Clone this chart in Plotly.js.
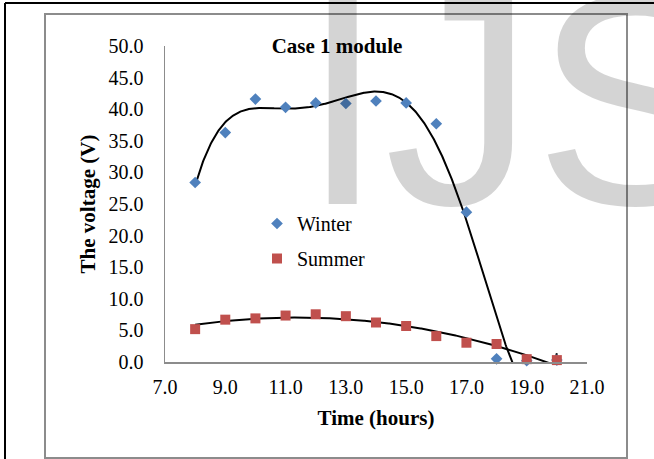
<!DOCTYPE html>
<html>
<head>
<meta charset="utf-8">
<script src="https://cdn.plot.ly/plotly-3.0.1.min.js"></script>
<style>
  html, body { margin: 0; padding: 0; background: #ffffff; }
  #chart { width: 654px; height: 459px; }
</style>
</head>
<body>
<div id="chart"></div>
<script>
// ---- Data ----
const hours  = [8, 9, 10, 11, 12, 13, 14, 15, 16, 17, 18, 19, 20];
const winter = [28.4, 36.3, 41.6, 40.3, 41.0, 40.9, 41.3, 41.0, 37.7, 23.7, 0.5, 0.2, 0.3];
const summer = [5.2, 6.7, 6.9, 7.35, 7.55, 7.25, 6.25, 5.7, 4.1, 3.05, 2.85, 0.45, 0.3];
const yTicks = [0, 5, 10, 15, 20, 25, 30, 35, 40, 45, 50];
const xTicks = [7, 9, 11, 13, 15, 17, 19, 21];
const seriesNames = ['Winter', 'Summer'];
const chartTitle = 'Case 1 module';
const xTitle = 'Time (hours)';
const yTitle = 'The voltage (V)';

// ---- Least-squares polynomial trendline (like Excel's) ----
function polyfit(xs, ys, deg) {
  const n = xs.length;
  const c = xs.reduce((a, b) => a + b, 0) / n;
  const s = (Math.max(...xs) - Math.min(...xs)) / 2;
  const m = deg + 1;
  const A = Array.from({length: m}, () => new Array(m).fill(0));
  const b = new Array(m).fill(0);
  for (let k = 0; k < n; k++) {
    const t = (xs[k] - c) / s;
    const p = [];
    for (let i = 0; i < m; i++) p.push(Math.pow(t, i));
    for (let i = 0; i < m; i++) {
      b[i] += p[i] * ys[k];
      for (let j = 0; j < m; j++) A[i][j] += p[i] * p[j];
    }
  }
  for (let i = 0; i < m; i++) {
    let piv = i;
    for (let r = i + 1; r < m; r++) if (Math.abs(A[r][i]) > Math.abs(A[piv][i])) piv = r;
    [A[i], A[piv]] = [A[piv], A[i]]; [b[i], b[piv]] = [b[piv], b[i]];
    for (let r = i + 1; r < m; r++) {
      const f = A[r][i] / A[i][i];
      for (let j = i; j < m; j++) A[r][j] -= f * A[i][j];
      b[r] -= f * b[i];
    }
  }
  const coef = new Array(m).fill(0);
  for (let i = m - 1; i >= 0; i--) {
    let sum = b[i];
    for (let j = i + 1; j < m; j++) sum -= A[i][j] * coef[j];
    coef[i] = sum / A[i][i];
  }
  return x => { const t = (x - c) / s; let v = 0; for (let i = m - 1; i >= 0; i--) v = v * t + coef[i]; return v; };
}
function trend(xs, ys, deg) {
  const f = polyfit(xs, ys, deg);
  const x0 = Math.min(...xs), x1 = Math.max(...xs);
  const tx = [], ty = [];
  for (let i = 0; i <= 600; i++) { const x = x0 + (x1 - x0) * i / 600; tx.push(x); ty.push(f(x)); }
  return {tx, ty};
}
const wT = trend(hours, winter, 6);
const sT = trend(hours, summer, 2);

// ---- Layout helpers (pixel -> paper) ----
const W = 654, H = 459;
const M = {l: 165, r: 67, t: 46, b: 97};
const PW = W - M.l - M.r, PH = H - M.t - M.b;
const px = x => (x - M.l) / PW;
const py = y => (H - M.b - y) / PH;

const serif = '"Liberation Serif", "Times New Roman", serif';

const traces = [
  {x: wT.tx, y: wT.ty, mode: 'lines', line: {color: '#000000', width: 2}, showlegend: false, hoverinfo: 'skip'},
  {x: sT.tx, y: sT.ty, mode: 'lines', line: {color: '#000000', width: 2}, showlegend: false, hoverinfo: 'skip'},
  {x: hours, y: winter, name: seriesNames[0], mode: 'markers', legendgroup: 'w', cliponaxis: false,
   marker: {symbol: 'diamond', size: 9, color: '#4F81BD'}},
  {x: hours, y: summer, name: seriesNames[1], mode: 'markers', legendgroup: 's', cliponaxis: false,
   marker: {symbol: 'square', size: 10, color: '#C0504D'}}
];

const layout = {
  width: W, height: H,
  margin: M,
  paper_bgcolor: '#ffffff', plot_bgcolor: 'rgba(0,0,0,0)',
  font: {family: serif, size: 20, color: '#000000'},
  title: {text: '<b>' + chartTitle + '</b>', xref: 'paper', x: px(337), xanchor: 'center',
          yref: 'paper', y: py(46), yanchor: 'middle', font: {family: serif, size: 21, color: '#000'}},
  xaxis: {range: [7, 21], tickvals: xTicks, ticktext: xTicks.map(v => v.toFixed(1)),
          showgrid: false, zeroline: false, showline: true, linecolor: '#8c8c8c', linewidth: 1.5,
          ticks: '', ticklabelstandoff: 6, tickfont: {family: serif, size: 20},
          title: {text: '<b>' + xTitle + '</b>', standoff: 14, font: {family: serif, size: 21}}},
  yaxis: {range: [0, 50], tickvals: yTicks, ticktext: yTicks.map(v => v.toFixed(1)),
          showgrid: false, zeroline: false, showline: true, linecolor: '#8c8c8c', linewidth: 1.5,
          ticks: '', ticklabelstandoff: 16, tickfont: {family: serif, size: 20},
          title: {text: '<b>' + yTitle + '</b>', standoff: 7, font: {family: serif, size: 21}}},
  showlegend: true,
  legend: {x: px(257), y: py(204), xanchor: 'left', yanchor: 'top', bgcolor: 'rgba(0,0,0,0)',
           traceorder: 'grouped', tracegroupgap: 6, font: {family: serif, size: 20}},
  shapes: [
    // outer black frame (top & left)
    {type: 'line', xref: 'paper', yref: 'paper', x0: px(5), x1: px(660), y0: py(3), y1: py(3), line: {color: '#000', width: 2}},
    {type: 'line', xref: 'paper', yref: 'paper', x0: px(5), x1: px(5), y0: py(3), y1: py(470), line: {color: '#000', width: 2}},
    // inner grey chart-area border
    {type: 'rect', xref: 'paper', yref: 'paper', x0: px(45), x1: px(627), y0: py(14), y1: py(458), line: {color: '#8c8c8c', width: 2}}
  ],
  annotations: [
    // faint watermark letters of the source page
    {text: 'IJS', xref: 'paper', yref: 'paper', x: px(299), y: py(270), xanchor: 'left', yanchor: 'bottom',
     showarrow: false, font: {family: '"Liberation Sans", Arial, sans-serif', size: 300, color: 'rgba(0,0,0,0.17)'}}
  ]
};

Plotly.newPlot('chart', traces, layout, {displayModeBar: false, staticPlot: true});
</script>
</body>
</html>
